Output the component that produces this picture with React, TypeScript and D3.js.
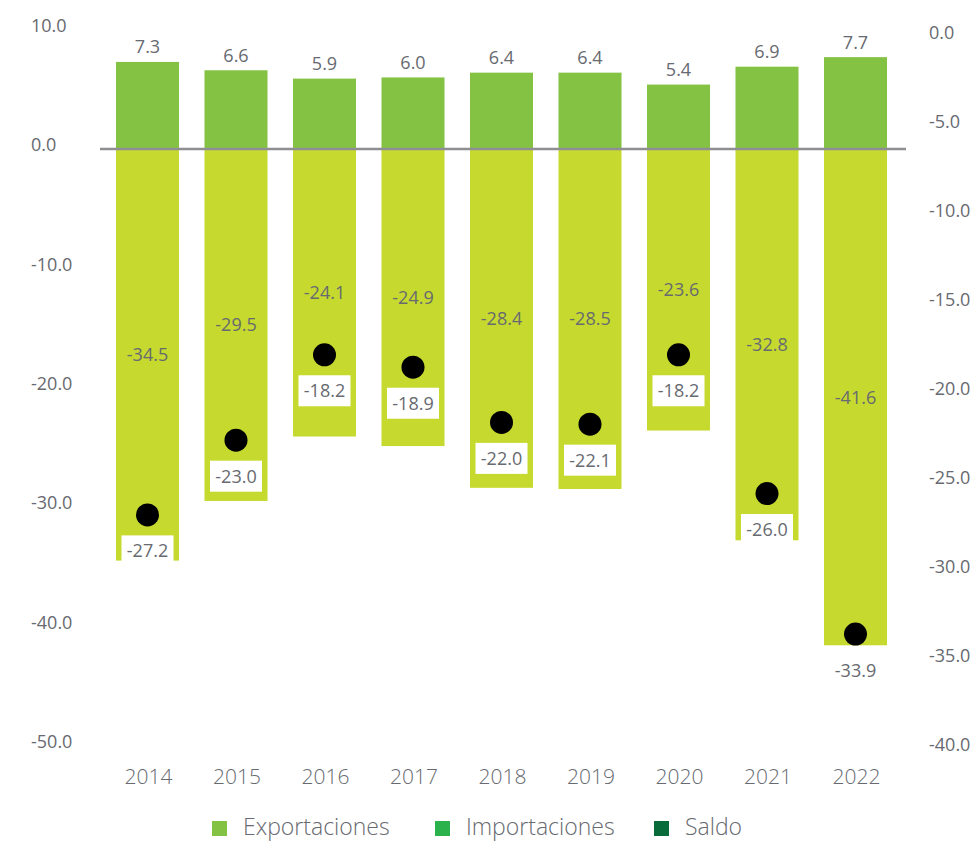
import React from 'react';
import * as d3 from 'd3';

const years = ['2014', '2015', '2016', '2017', '2018', '2019', '2020', '2021', '2022'];
const exportaciones = [7.3, 6.6, 5.9, 6.0, 6.4, 6.4, 5.4, 6.9, 7.7];
const importaciones = [-34.5, -29.5, -24.1, -24.9, -28.4, -28.5, -23.6, -32.8, -41.6];
const saldo = [-27.2, -23.0, -18.2, -18.9, -22.0, -22.1, -18.2, -26.0, -33.9];
const leftTicks = [10, 0, -10, -20, -30, -40, -50];
const rightTicks = [0, -5, -10, -15, -20, -25, -30, -35, -40];
const legendLabels = ['Exportaciones', 'Importaciones', 'Saldo'];
const legendColors = ['#84c244', '#2bb24c', '#086b39'];

const W = 976;
const H = 841;
const EXP_COLOR = '#84c244';
const IMP_COLOR = '#c6d92e';
const TEXT = '#676a70';
const FONT = "'Open Sans', 'Noto Sans', sans-serif";

const locale = d3.formatLocale({
  decimal: '.',
  thousands: ',',
  grouping: [3],
  currency: ['', ''],
  minus: '-',
});
const fmt = locale.format('.1f');

export default function App() {
  const x = d3
    .scaleBand<string>()
    .domain(years)
    .range([103.25, 899.75])
    .paddingInner(0.288)
    .paddingOuter(0.144);
  const yL = d3.scaleLinear().domain([-50, 10]).range([745.5, 29.7]);
  const yR = d3.scaleLinear().domain([-40, 0]).range([742.6, 31]);
  const bw = x.bandwidth();
  const legendX = [212, 435, 654];

  return (
    <svg
      width={W}
      height={H}
      style={{ position: 'absolute', left: 0, top: 0, background: '#fff' }}
      fontFamily={FONT}
    >
      {/* left axis labels */}
      {leftTicks.map((t) => (
        <text key={'l' + t} x={31} y={yL(t) - 4} dy="0.357em" fontSize={18} fill={TEXT}>
          {fmt(t)}
        </text>
      ))}
      {/* right axis labels */}
      {rightTicks.map((t) => (
        <text key={'r' + t} x={929} y={yR(t) + 2} dy="0.357em" fontSize={18} fill={TEXT}>
          {fmt(t)}
        </text>
      ))}
      {/* bars */}
      {years.map((yr, i) => (
        <g key={'b' + yr}>
          <rect
            x={x(yr)}
            y={yL(exportaciones[i])}
            width={bw}
            height={yL(0) - yL(exportaciones[i])}
            fill={EXP_COLOR}
          />
          <rect
            x={x(yr)}
            y={yL(0)}
            width={bw}
            height={yL(importaciones[i]) - yL(0)}
            fill={IMP_COLOR}
          />
        </g>
      ))}
      {/* zero line */}
      <line x1={100} x2={906} y1={yL(0)} y2={yL(0)} stroke="#8e8e93" strokeWidth={2.5} />
      {/* export labels */}
      {years.map((yr, i) => (
        <text
          key={'el' + yr}
          x={(x(yr) as number) + bw / 2}
          y={yL(exportaciones[i]) - 15}
          dy="0.357em"
          textAnchor="middle"
          fontSize={18}
          fill={TEXT}
        >
          {fmt(exportaciones[i])}
        </text>
      ))}
      {/* import labels */}
      {years.map((yr, i) => (
        <text
          key={'il' + yr}
          x={(x(yr) as number) + bw / 2}
          y={(yL(0) + yL(importaciones[i])) / 2}
          dy="0.357em"
          textAnchor="middle"
          fontSize={18}
          fill={TEXT}
        >
          {fmt(importaciones[i])}
        </text>
      ))}
      {/* saldo dots and labels */}
      {years.map((yr, i) => {
        const cx = (x(yr) as number) + bw / 2;
        const cy = yR(saldo[i]);
        return (
          <g key={'s' + yr}>
            <circle cx={cx} cy={cy} r={11.5} fill="#000" />
            <rect x={cx - 26} y={cy + 36 - 15.5} width={52} height={31} fill="#fff" />
            <text x={cx} y={cy + 36} dy="0.357em" textAnchor="middle" fontSize={18} fill={TEXT}>
              {fmt(saldo[i])}
            </text>
          </g>
        );
      })}
      {/* x axis labels */}
      {years.map((yr) => (
        <text
          key={'x' + yr}
          x={(x(yr) as number) + bw / 2 + 1}
          y={777}
          dy="0.357em"
          textAnchor="middle"
          fontSize={21}
          fontWeight={300}
          fill={TEXT}
        >
          {yr}
        </text>
      ))}
      {/* legend */}
      {legendLabels.map((lab, i) => (
        <g key={'lg' + lab}>
          <rect x={legendX[i]} y={821} width={15} height={15} fill={legendColors[i]} />
          <text
            x={legendX[i] + 31}
            y={827}
            dy="0.357em"
            fontSize={23}
            fontWeight={300}
            fill={TEXT}
          >
            {lab}
          </text>
        </g>
      ))}
    </svg>
  );
}
